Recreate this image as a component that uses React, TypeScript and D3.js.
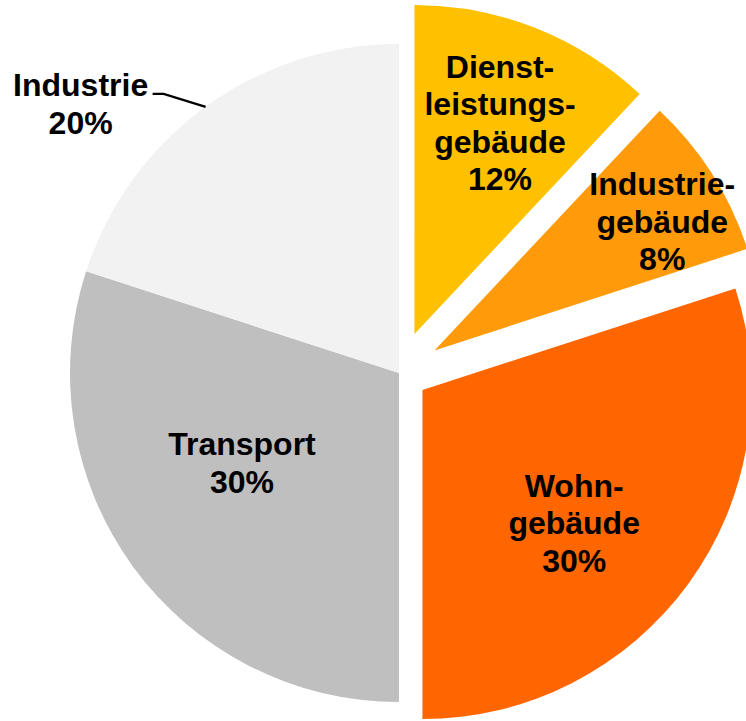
import React from "react";
import * as d3 from "d3";

const categories = ["Dienstleistungsgebäude", "Industriegebäude", "Wohngebäude", "Transport", "Industrie"];
const values = [12, 8, 30, 30, 20];
const labelLines = [
  ["Dienst-", "leistungs-", "gebäude", "12%"],
  ["Industrie-", "gebäude", "8%"],
  ["Wohn-", "gebäude", "30%"],
  ["Transport", "30%"],
  ["Industrie", "20%"],
];
const colors = ["#FFC000", "#FF9A0A", "#FF6600", "#BFBFBF", "#F2F2F2"];
const explode = [42, 42, 29, 0, 0];

const W = 746;
const H = 721;
const CX = 399;
const CY = 373;
const R = 329;
const FONT = 32;
const LINE = 37.5;

// label placement: radius fraction along mid-angle, plus nudge
const labelRFrac = [0.69, 0.82, 0.57, 0.59, 0];
const labelNudge: [number, number][] = [[2, 0], [0, 16], [0, 23], [0, -24], [0, 0]];

function polar(angle: number, r: number): [number, number] {
  return [Math.sin(angle) * r, -Math.cos(angle) * r];
}

export default function App() {
  const pie = d3.pie<number>().sort(null).value((d) => d);
  const arcs = pie(values);
  const arc = d3.arc<d3.PieArcDatum<number>>().innerRadius(0).outerRadius(R);

  return (
    <svg
      width={W}
      height={H}
      style={{ position: "absolute", left: 0, top: 0, background: "#fff" }}
      fontFamily="'Liberation Sans', Arial, sans-serif"
      fontWeight="bold"
    >
      {arcs.map((a, i) => {
        const mid = (a.startAngle + a.endAngle) / 2;
        const [ox, oy] = polar(mid, explode[i]);
        return (
          <path
            key={categories[i]}
            d={arc(a) || ""}
            transform={`translate(${CX + ox},${CY + oy})`}
            fill={colors[i]}
          />
        );
      })}
      {arcs.map((a, i) => {
        const mid = (a.startAngle + a.endAngle) / 2;
        const [ox, oy] = polar(mid, explode[i]);
        const lines = labelLines[i];
        let lx: number;
        let ly: number;
        let leader: string | null = null;
        if (labelRFrac[i] > 0) {
          const [px, py] = polar(mid, R * labelRFrac[i]);
          lx = CX + ox + px + labelNudge[i][0];
          ly = CY + oy + py + labelNudge[i][1];
        } else {
          const [ex, ey] = polar(mid, R);
          const sx = CX + ox + ex;
          const sy = CY + oy + ey;
          const elbowX = sx - 42;
          const elbowY = sy - 13;
          const endX = elbowX - 11;
          leader = `M${sx},${sy}L${elbowX},${elbowY}L${endX},${elbowY}`;
          lx = endX - 72;
          ly = elbowY + 10;
        }
        const n = lines.length;
        return (
          <g key={"l" + i}>
            {leader && <path d={leader} fill="none" stroke="#000" strokeWidth={2.2} />}
            <text textAnchor="middle" fontSize={FONT} fill="#000">
              {lines.map((t, j) => (
                <tspan key={j} x={lx} y={ly + (j - (n - 1) / 2) * LINE + 11}>
                  {t}
                </tspan>
              ))}
            </text>
          </g>
        );
      })}
    </svg>
  );
}
